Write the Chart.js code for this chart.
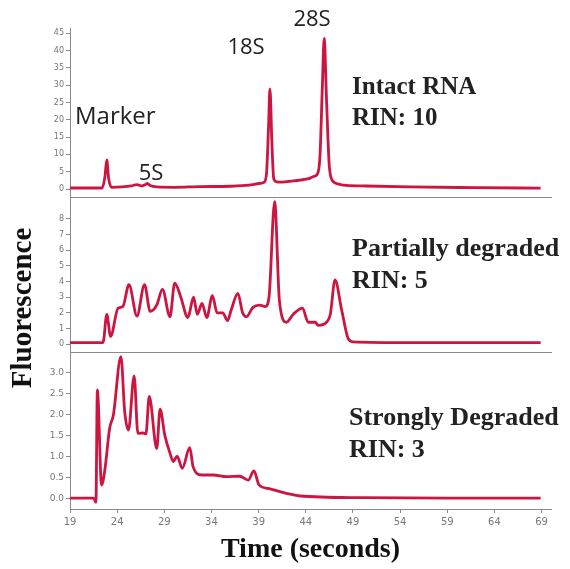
<!DOCTYPE html>
<html>
<head>
<meta charset="utf-8">
<script src="https://cdn.jsdelivr.net/npm/chart.js@4/dist/chart.umd.min.js"></script>
<style>
  html, body { margin: 0; padding: 0; background: #fff; }
  #wrap { position: relative; width: 570px; height: 569px; }
  #wrap canvas { position: absolute; left: 0; top: 0; }
</style>
</head>
<body>
<div id="wrap">
  <canvas id="c10" width="570" height="569"></canvas>
  <canvas id="c5" width="570" height="569"></canvas>
  <canvas id="c3" width="570" height="569"></canvas>
</div>
<script>
// Electroferogramas: tres paneles con el mismo eje de tiempo.
var xTicks = [19, 24, 29, 34, 39, 44, 49, 54, 59, 64, 69];
var yTicks10 = [0, 5, 10, 15, 20, 25, 30, 35, 40, 45];
var yTicks5 = [0, 1, 2, 3, 4, 5, 6, 7, 8];
var yTicks3 = [0, 0.5, 1, 1.5, 2, 2.5, 3];

// RIN 10 (intacto)
var times10 = [19, 22.4, 22.7, 22.9, 23.1, 23.4, 24.5, 25.5, 26.1, 26.6, 27.0, 27.2, 27.5, 28.2, 30, 32.8, 36, 38, 39.1, 39.6, 39.85, 40.05, 40.2, 40.4, 40.6, 40.9, 41.5, 42.5, 43.4, 44.3, 44.8, 45.2, 45.5, 45.75, 45.95, 46.2, 46.5, 46.9, 47.5, 48, 50, 55, 62, 68.9];
var rin10 = [0.3, 0.3, 3.5, 8.4, 3.0, 0.5, 0.6, 0.9, 1.3, 0.9, 1.3, 1.6, 1.0, 0.6, 0.5, 0.7, 0.8, 1.1, 1.6, 2.0, 5, 18, 28.9, 14, 3.0, 2.1, 2.0, 2.3, 2.6, 3.0, 3.6, 4.2, 9.3, 29, 43.5, 25.7, 6.4, 2.2, 1.4, 1.1, 0.9, 0.6, 0.4, 0.25];

// RIN 5 (parcialmente degradado)
var times5 = [19, 22.5, 22.9, 23.3, 24.1, 24.6, 25.25, 26.1, 26.9, 27.5, 28.2, 28.8, 29.6, 30.1, 30.7, 31.5, 32.1, 32.5, 33.0, 33.5, 34.1, 34.6, 35.2, 35.7, 36.1, 36.8, 37.3, 37.7, 38.4, 39.1, 39.7, 40.1, 40.7, 41.2, 41.95, 42.65, 43.65, 44.25, 45.0, 45.3, 46.2, 46.6, 47.1, 47.8, 48.5, 49.0, 55, 62, 68.9];
var rin5 = [0.1, 0.1, 1.9, 0.5, 2.3, 2.4, 3.8, 1.8, 3.8, 2.1, 2.5, 3.5, 1.75, 3.9, 3.1, 1.7, 3.0, 1.9, 2.6, 1.7, 3.1, 2.0, 2.0, 1.5, 2.2, 3.25, 2.0, 1.75, 2.35, 2.5, 2.4, 3.0, 9.1, 2.8, 1.4, 1.9, 2.3, 1.4, 1.4, 1.2, 1.4, 1.9, 4.1, 2.2, 0.35, 0.15, 0.1, 0.1, 0.1];

// RIN 3 (muy degradado)
var times3 = [19, 21.5, 21.75, 21.9, 22.35, 22.7, 23.2, 23.6, 24.4, 24.8, 25.2, 25.8, 26.2, 26.75, 27.05, 27.4, 28.2, 28.55, 29.05, 29.6, 29.95, 30.35, 30.9, 31.7, 32.05, 32.95, 34.2, 35.6, 37.0, 37.9, 38.5, 39.05, 40.0, 41.95, 43.4, 50, 60, 68.9];
var rin3 = [0.02, 0.02, -0.08, 2.6, 0.33, 0.7, 1.68, 2.0, 3.39, 2.08, 1.64, 2.93, 1.56, 1.57, 1.55, 2.44, 1.2, 2.14, 1.52, 1.09, 0.89, 1.02, 0.73, 1.22, 0.77, 0.57, 0.57, 0.53, 0.54, 0.45, 0.67, 0.33, 0.25, 0.13, 0.07, 0.03, 0.02, 0.02];

var LINEA = '#cc1541';
var EJE = '#8a8a8a';
var SERIF = '"Liberation Serif", "DejaVu Serif", serif';
var SANS = '"Open Sans", "DejaVu Sans", sans-serif';

function puntos(xs, ys) { return xs.map(function (x, i) { return { x: x, y: ys[i] }; }); }

// textos sobre el lienzo (etiquetas de picos, RIN, título vertical)
var textos = {
  id: 'textos',
  afterDraw: function (chart, args, opts) {
    var ctx = chart.ctx;
    (opts.items || []).forEach(function (t) {
      ctx.save();
      ctx.font = t.font;
      ctx.fillStyle = t.color || '#222';
      ctx.textAlign = t.align || 'left';
      ctx.textBaseline = 'middle';
      ctx.translate(t.x, t.y);
      if (t.rot) ctx.rotate(t.rot);
      ctx.fillText(t.text, 0, 0);
      ctx.restore();
    });
  }
};

function panel(id, xs, ys, yTicks, ymin, ymax, padTop, padBottom, conEjeX, tickSize, fmt, items) {
  var x = {
    type: 'linear', min: 19, max: 70,
    afterBuildTicks: function (s) { s.ticks = xTicks.map(function (v) { return { value: v }; }); },
    border: { color: EJE, width: 1 },
    grid: { drawOnChartArea: false, drawTicks: conEjeX, tickLength: 4, color: EJE }
  };
  if (conEjeX) {
    x.ticks = { color: '#777', font: { family: '"DejaVu Sans", sans-serif', size: 10 }, padding: 3, maxRotation: 0 };
    x.title = { display: true, text: 'Time (seconds)', color: '#111', font: { family: SERIF, size: 28, weight: 'bold' }, padding: { top: 0, bottom: 2 } };
    x.afterFit = function (s) { s.height = 60; };
  } else {
    x.ticks = { display: false };
    x.afterFit = function (s) { s.height = 0; };
  }
  return new Chart(document.getElementById(id), {
    type: 'line',
    data: { datasets: [{ data: puntos(xs, ys), borderColor: LINEA, borderWidth: 2.8, pointRadius: 0, cubicInterpolationMode: 'monotone', fill: false }] },
    options: {
      responsive: false, animation: false, events: [],
      layout: { padding: { top: padTop, bottom: padBottom, left: 0, right: 19 } },
      plugins: { legend: { display: false }, tooltip: { enabled: false }, textos: { items: items } },
      scales: {
        x: x,
        y: {
          type: 'linear', min: ymin, max: ymax,
          afterBuildTicks: function (s) { s.ticks = yTicks.map(function (v) { return { value: v }; }); },
          afterFit: function (s) { s.width = 70; },
          border: { color: EJE, width: 1 },
          grid: { drawOnChartArea: false, drawTicks: true, tickLength: 4, color: EJE },
          ticks: { color: '#777', padding: 2, font: { family: '"DejaVu Sans", sans-serif', size: tickSize }, callback: fmt }
        }
      }
    },
    plugins: [textos]
  });
}

panel('c10', times10, rin10, yTicks10, -2.3, 46.5, 28, 372, false, 8, function (v) { return v; }, [
  { text: 'Marker', x: 75, y: 117, font: '24px ' + SANS },
  { text: '5S', x: 151, y: 174, align: 'center', font: '22px ' + SANS },
  { text: '18S', x: 246, y: 48, align: 'center', font: '22px ' + SANS },
  { text: '28S', x: 312, y: 20, align: 'center', font: '22px ' + SANS },
  { text: 'Intact RNA', x: 352, y: 88, font: 'bold 25px ' + SERIF },
  { text: 'RIN: 10', x: 352, y: 119, font: 'bold 25px ' + SERIF }
]);

panel('c5', times5, rin5, yTicks5, -0.5, 9.4, 197, 217, false, 8, function (v) { return v; }, [
  { text: 'Partially degraded', x: 352, y: 249, font: 'bold 26px ' + SERIF },
  { text: 'RIN: 5', x: 352, y: 281, font: 'bold 26px ' + SERIF },
  { text: 'Fluorescence', x: 24, y: 308, align: 'center', rot: -Math.PI / 2, color: '#111', font: 'bold 29px ' + SERIF }
]);

panel('c3', times3, rin3, yTicks3, -0.24, 3.5, 352, 0, true, 9, function (v) { return v.toFixed(1); }, [
  { text: 'Strongly Degraded', x: 349, y: 418, font: 'bold 26px ' + SERIF },
  { text: 'RIN: 3', x: 349, y: 450, font: 'bold 26px ' + SERIF }
]);
</script>
</body>
</html>
